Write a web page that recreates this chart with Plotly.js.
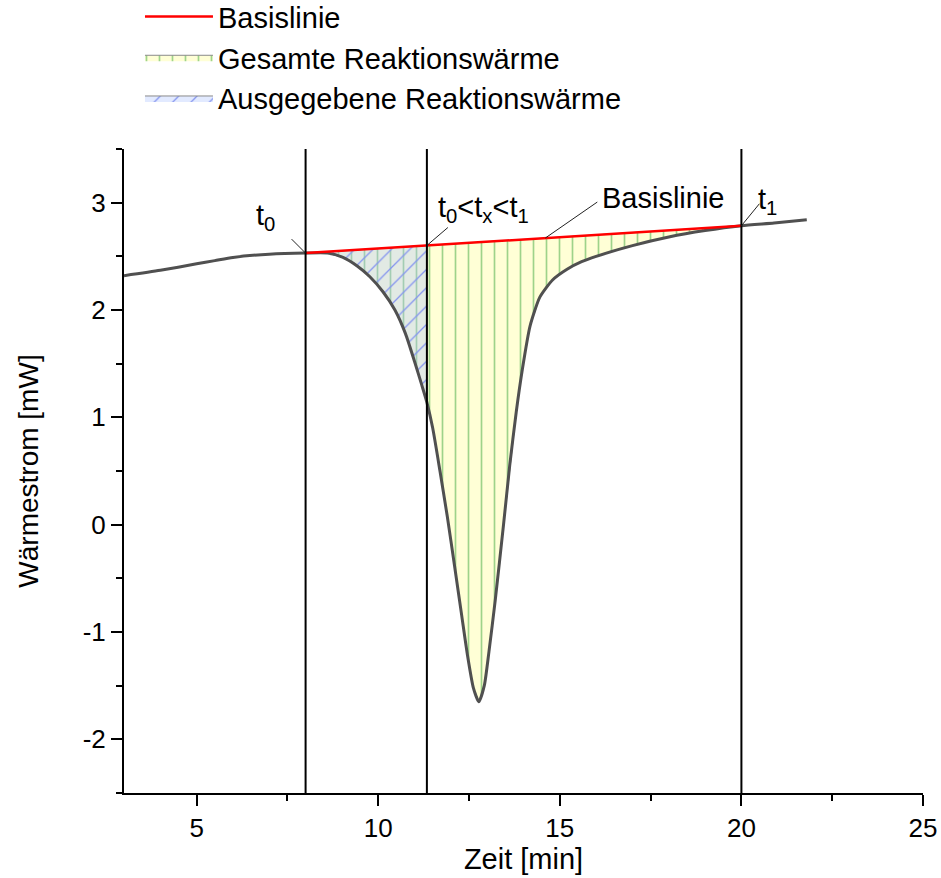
<!DOCTYPE html>
<html>
<head>
<meta charset="utf-8">
<script src="https://cdn.plot.ly/plotly-3.0.1.min.js"></script>
<style>html,body{margin:0;padding:0;background:#fff;}#chart{width:941px;height:878px;}</style>
</head>
<body>
<div id="chart"></div>
<script>
// Measured DSC curve (time in min, heat flow in mW)
const timeMin = [3, 4, 5, 5.5, 6, 7, 8, 8.6, 9.03, 9.42, 9.77, 10.13, 10.46, 10.75, 11.0, 11.2, 11.34, 11.5, 11.7, 11.9, 12.1, 12.3, 12.45, 12.62, 12.77, 12.92, 13.05, 13.22, 13.45, 13.62, 13.8, 13.97, 14.18, 14.45, 14.8, 15.2, 15.6, 16, 17, 18, 19, 20, 20.9, 21.8];
const heatFlow = [2.32, 2.37, 2.43, 2.46, 2.49, 2.52, 2.53, 2.53, 2.49, 2.41, 2.31, 2.17, 2.00, 1.78, 1.52, 1.30, 1.14, 0.90, 0.50, 0.08, -0.38, -0.85, -1.20, -1.52, -1.65, -1.50, -1.18, -0.71, 0.00, 0.55, 1.05, 1.45, 1.85, 2.12, 2.28, 2.38, 2.45, 2.50, 2.60, 2.68, 2.74, 2.785, 2.81, 2.84];

// Baseline between t0 and t1
const baseTime = [8, 20];
const baseFlow = [2.53, 2.785];

// Characteristic times
const t0 = 8;
const tx = 11.34;
const t1 = 20;
const markerTimes = [t0, tx, t1];
const basisLabelTime = 14.6;

const xTicks = [5, 10, 15, 20, 25];
const yTicks = [-2, -1, 0, 1, 2, 3];

function baseAt(t) {
  return baseFlow[0] + (baseFlow[1] - baseFlow[0]) * (t - baseTime[0]) / (baseTime[1] - baseTime[0]);
}

function areaBetween(ta, tb) {
  const xs = [], ys = [];
  for (let i = 0; i < timeMin.length; i++) {
    if (timeMin[i] >= ta && timeMin[i] <= tb) { xs.push(timeMin[i]); ys.push(heatFlow[i]); }
  }
  xs.push(tb); ys.push(baseAt(tb));
  xs.push(ta); ys.push(baseAt(ta));
  return {x: xs, y: ys};
}

const FONT = 'Liberation Sans, Arial, sans-serif';
const total = areaBetween(t0, t1);
const part = areaBetween(t0, tx);

const traces = [
  {
    x: total.x, y: total.y, type: 'scatter', mode: 'lines', fill: 'toself',
    name: 'Gesamte Reaktionswärme', legendrank: 2,
    line: {color: '#8a8a8a', width: 1},
    fillcolor: '#ffffd6',
    fillpattern: {shape: '|', fgcolor: '#9ed38a', bgcolor: '#ffffd6', size: 13, solidity: 0.13},
    hoverinfo: 'skip'
  },
  {
    x: part.x, y: part.y, type: 'scatter', mode: 'lines', fill: 'toself',
    name: 'Ausgegebene Reaktionswärme', legendrank: 3,
    line: {color: '#8a8a8a', width: 1},
    fillcolor: 'rgba(170,195,255,0.35)',
    fillpattern: {shape: '/', fgcolor: '#8494ee', bgcolor: 'rgba(170,195,255,0.35)', size: 13, solidity: 0.1},
    hoverinfo: 'skip'
  },
  {
    x: timeMin, y: heatFlow, type: 'scatter', mode: 'lines', showlegend: false,
    line: {color: '#505050', width: 3, shape: 'spline', smoothing: 0.6}
  },
  {
    x: baseTime, y: baseFlow, type: 'scatter', mode: 'lines',
    name: 'Basislinie', legendrank: 1,
    line: {color: '#ff0000', width: 2.5}
  }
];

const shapes = markerTimes.map(t => ({
  type: 'line', xref: 'x', yref: 'paper', x0: t, x1: t, y0: 0, y1: 1,
  line: {color: '#000', width: 2}
}));

// thin leader lines from labels to their points (pixel offsets anchored at the data point)
const leaders = [
  {t: t0, dx: -14, dy: 14},
  {t: tx, dx: 21, dy: 18},
  {t: basisLabelTime, dx: 52, dy: 36},
  {t: t1, dx: 18, dy: 22}
];
leaders.forEach(l => shapes.push({
  type: 'line', xref: 'x', yref: 'y', xsizemode: 'pixel', ysizemode: 'pixel',
  xanchor: l.t, yanchor: baseAt(l.t), x0: 0, y0: 0, x1: l.dx, y1: l.dy,
  line: {color: '#222', width: 1}
}));

const txtFont = {family: FONT, size: 29, color: '#000'};
const annotations = [
  {x: t0, y: baseAt(t0), text: 't<sub>0</sub>', showarrow: false, xshift: -40, yshift: 36, font: txtFont},
  {x: tx, y: baseAt(tx), text: 't<sub>0</sub>&lt;t<sub>x</sub>&lt;t<sub>1</sub>', showarrow: false, xshift: 57, yshift: 37, font: txtFont},
  {x: basisLabelTime, y: baseAt(basisLabelTime), text: 'Basislinie', showarrow: false, xshift: 118, yshift: 40, font: txtFont},
  {x: t1, y: baseAt(t1), text: 't<sub>1</sub>', showarrow: false, xshift: 26, yshift: 25, font: txtFont}
];

const axisCommon = {
  showline: true, linecolor: '#000', linewidth: 2, mirror: false,
  showgrid: false, zeroline: false,
  ticks: 'outside', ticklen: 11, tickwidth: 2, tickcolor: '#000'
};

const layout = {
  width: 941, height: 878,
  margin: {l: 124, r: 18, t: 149, b: 85, autoexpand: false},
  paper_bgcolor: '#fff', plot_bgcolor: '#fff',
  font: {family: FONT, size: 26, color: '#000'},
  showlegend: true,
  legend: {
    x: 0.02, y: 1.245, xanchor: 'left', yanchor: 'top',
    font: {family: FONT, size: 29, color: '#000'},
    itemwidth: 68, bgcolor: 'rgba(0,0,0,0)', tracegroupgap: 0
  },
  xaxis: Object.assign({}, axisCommon, {
    range: [3, 25], tickvals: xTicks, ticktext: xTicks.map(String),
    tickfont: {family: FONT, size: 26, color: '#000'},
    minor: {ticks: 'outside', ticklen: 6, tickwidth: 2, tickcolor: '#000', dtick: 2.5, tick0: 0, showgrid: false},
    title: {text: 'Zeit [min]', font: {family: FONT, size: 29, color: '#000'}, standoff: 4}
  }),
  yaxis: Object.assign({}, axisCommon, {
    range: [-2.5, 3.5], tickvals: yTicks, ticktext: yTicks.map(String),
    tickfont: {family: FONT, size: 26, color: '#000'},
    minor: {ticks: 'outside', ticklen: 6, tickwidth: 2, tickcolor: '#000', dtick: 0.5, tick0: 0, showgrid: false},
    title: {text: 'Wärmestrom [mW]', font: {family: FONT, size: 28, color: '#000'}, standoff: 36}
  }),
  shapes: shapes,
  annotations: annotations
};

Plotly.newPlot('chart', traces, layout, {displayModeBar: false, staticPlot: true});
</script>
</body>
</html>
